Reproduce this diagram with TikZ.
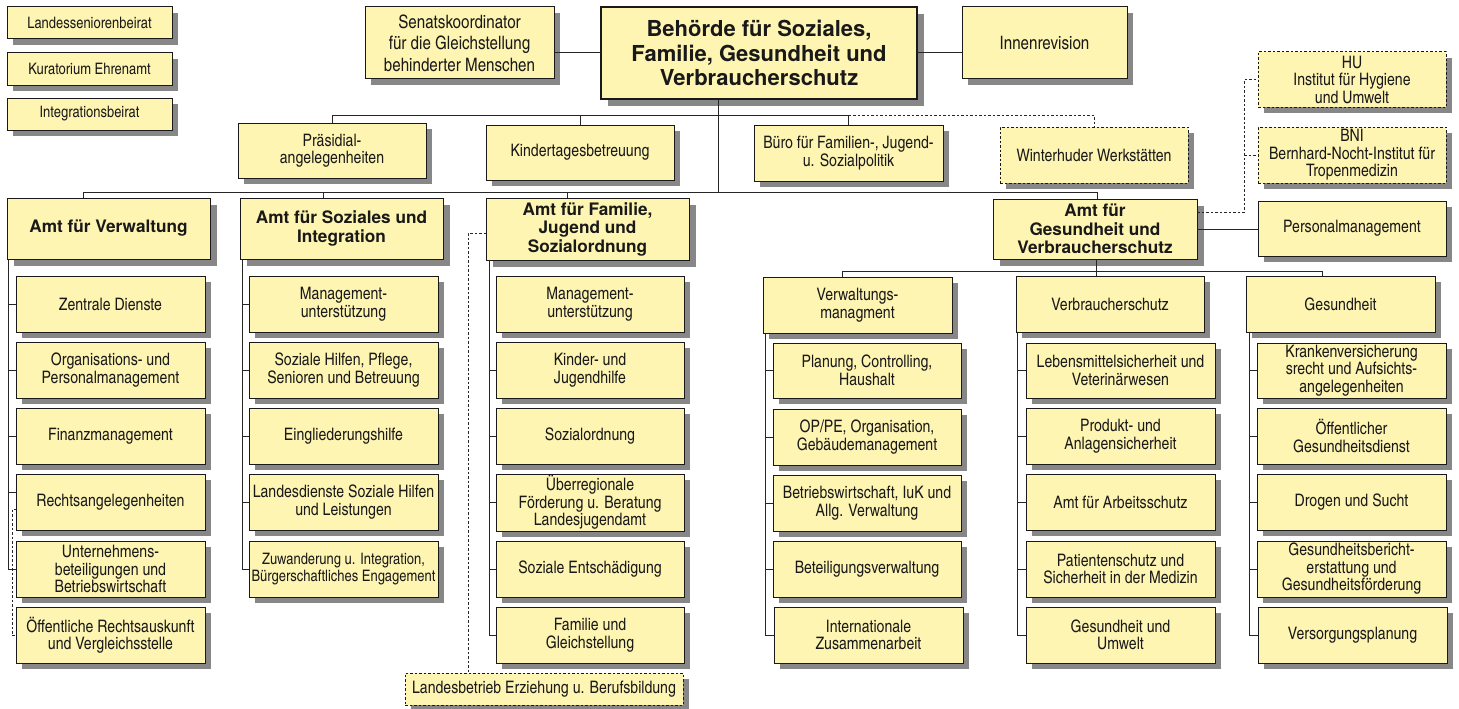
\documentclass[tikz,border=0pt]{standalone}
\usepackage{fontspec}
\setmainfont{texgyreheroscn}[Extension=.otf,UprightFont=*-regular,BoldFont=*-bold]
\newfontfamily\hbold{texgyreheros}[Extension=.otf,UprightFont=*-bold]
\usetikzlibrary{shadows}
\definecolor{boxfill}{RGB}{255,245,178}
\definecolor{shadowc}{RGB}{135,135,135}
\tikzset{
  base/.style={draw=black!90, line width=1pt, fill=boxfill, inner sep=0pt, outer sep=0pt,
    align=center, text=black!90, font=\fontsize{17.2}{17.5}\selectfont},
  box/.style={base, drop shadow={shadow xshift=6pt, shadow yshift=-6pt, fill=shadowc, opacity=1}},
  bigbox/.style={base, drop shadow={shadow xshift=7pt, shadow yshift=-7pt, fill=shadowc, opacity=1}},
  dbox/.style={dash pattern=on 2.5pt off 2pt},
  head/.style={font={\hbold\fontsize{17.2}{18.5}\selectfont}},
  small/.style={font=\fontsize{15.8}{17.5}\selectfont},
  ln/.style={draw=black!85, line width=1pt},
  dln/.style={ln, dash pattern=on 2.5pt off 2pt},
}
\newcommand\obox[7][box]{%
  \pgfmathsetmacro\obw{#5-#3}\pgfmathsetmacro\obh{#6-#4}%
  \node[#1, minimum width=\obw pt, minimum height=\obh pt, anchor=north west] (#2) at (#3,#4) {#7};}
\begin{document}
\begin{tikzpicture}[x=1pt,y=-1pt]
\useasboundingbox (0,0) rectangle (1459,709);
% top-left boards
\obox[box,small]{lsb}{7}{7}{172}{39}{Landesseniorenbeirat}
\obox[box,small]{kur}{7}{53}{172}{85}{Kuratorium Ehrenamt}
\obox[box,small]{intb}{7}{98}{172}{130}{Integrationsbeirat}
% top row
\obox[box,font=\fontsize{18.5}{21.5}\selectfont]{senat}{365}{7}{554}{79}{Senatskoordinator\\für die Gleichstellung\\behinderter Menschen}
\obox[bigbox,line width=2.2pt,font={\hbold\fontsize{22}{24.5}\selectfont}]{beh}{601}{7}{917}{99}{Behörde für Soziales,\\Familie, Gesundheit und\\Verbraucherschutz}
\obox[box,font=\fontsize{18.5}{21.5}\selectfont]{inn}{962}{7}{1127}{79}{Innenrevision}
% staff row
\obox{praes}{238}{123}{426}{178}{Präsidial-\\angelegenheiten}
\obox{kita}{486}{125}{674}{180}{Kindertagesbetreuung}
\obox{buero}{754}{125}{943}{181}{Büro für Familien-, Jugend-\\u. Sozialpolitik}
\obox[box,dbox]{winter}{1000}{127}{1188}{183}{Winterhuder Werkstätten}
\obox[box,dbox]{hu}{1258}{52}{1446}{107}{HU\\Institut für Hygiene\\und Umwelt}
\obox[box,dbox]{bni}{1258}{127}{1446}{183}{BNI\\Bernhard-Nocht-Institut für\\Tropenmedizin}
% Ämter
\obox[bigbox,head]{avw}{7}{198}{210}{259}{Amt für Verwaltung}
\obox[bigbox,head]{asi}{240}{198}{443}{259}{Amt für Soziales und\\Integration}
\obox[bigbox,head]{afj}{486}{198}{689}{260}{Amt für Familie,\\Jugend und\\Sozialordnung}
\obox[bigbox,head]{ages}{993}{199}{1197}{259}{Amt für\\Gesundheit und\\Verbraucherschutz}
\obox{pers}{1258}{201}{1446}{256}{Personalmanagement}
% Abteilungen Gesundheit
\obox{vm}{763}{277}{952}{333}{Verwaltungs-\\managment}
\obox{vs}{1016}{276}{1204}{332}{Verbraucherschutz}
\obox{ge}{1246}{276}{1435}{332}{Gesundheit}
% column Verwaltung
\obox{zd}{16}{276}{205}{332}{Zentrale Dienste}
\obox{org}{16}{342}{205}{398}{Organisations- und\\Personalmanagement}
\obox{fin}{16}{408}{205}{464}{Finanzmanagement}
\obox{recht}{16}{474}{205}{530}{Rechtsangelegenheiten}
\obox{uub}{16}{541}{205}{597}{Unternehmens-\\beteiligungen und\\Betriebswirtschaft}
\obox{oeff}{16}{607}{205}{663}{Öffentliche Rechtsauskunft\\und Vergleichsstelle}
% column Soziales
\obox{s1}{249}{276}{438}{332}{Management-\\unterstützung}
\obox{s2}{249}{342}{438}{398}{Soziale Hilfen, Pflege,\\Senioren und Betreuung}
\obox{s3}{249}{408}{438}{464}{Eingliederungshilfe}
\obox{s4}{249}{474}{438}{530}{Landesdienste Soziale Hilfen\\und Leistungen}
\obox[box,small]{s5}{249}{541}{438}{597}{Zuwanderung u. Integration,\\Bürgerschaftliches Engagement}
% column Familie
\obox{f1}{496}{276}{684}{332}{Management-\\unterstützung}
\obox{f2}{496}{342}{684}{398}{Kinder- und\\Jugendhilfe}
\obox{f3}{496}{408}{684}{464}{Sozialordnung}
\obox{f4}{496}{474}{684}{531}{Überregionale\\Förderung u. Beratung\\Landesjugendamt}
\obox{f5}{496}{541}{684}{597}{Soziale Entschädigung}
\obox{f6}{496}{607}{684}{663}{Familie und\\Gleichstellung}
\obox[box,dbox]{lbe}{405}{673}{683}{705}{Landesbetrieb Erziehung u. Berufsbildung}
% column Verwaltungsmanagement
\obox{v1}{773}{343}{961}{398}{Planung, Controlling,\\Haushalt}
\obox{v2}{773}{409}{961}{465}{OP/PE, Organisation,\\Gebäudemanagement}
\obox{v3}{773}{475}{961}{531}{Betriebswirtschaft, IuK und\\Allg. Verwaltung}
\obox{v4}{773}{541}{961}{597}{Beteiligungsverwaltung}
\obox{v5}{774}{607}{963}{663}{Internationale\\Zusammenarbeit}
% column Verbraucherschutz
\obox{p1}{1026}{343}{1215}{398}{Lebensmittelsicherheit und\\Veterinärwesen}
\obox{p2}{1026}{408}{1215}{464}{Produkt- und\\Anlagensicherheit}
\obox{p3}{1026}{474}{1215}{530}{Amt für Arbeitsschutz}
\obox{p4}{1026}{541}{1215}{597}{Patientenschutz und\\Sicherheit in der Medizin}
\obox{p5}{1026}{607}{1215}{663}{Gesundheit und\\Umwelt}
% column Gesundheit
\obox{g1}{1257}{343}{1446}{398}{Krankenversicherung\\srecht und Aufsichts-\\angelegenheiten}
\obox{g2}{1257}{408}{1446}{464}{Öffentlicher\\Gesundheitsdienst}
\obox{g3}{1257}{474}{1446}{530}{Drogen und Sucht}
\obox{g4}{1257}{541}{1446}{597}{Gesundheitsbericht-\\erstattung und\\Gesundheitsförderung}
\obox{g5}{1258}{607}{1447}{663}{Versorgungsplanung}
% ---------- connectors ----------
\draw[ln] (beh.west) -- (beh.west -| senat.east);
\draw[ln] (beh.east) -- (beh.east -| inn.west);
\coordinate (tr1) at (718,115);
\coordinate (tr2) at (718,192);
\draw[ln] (beh.south -| tr1) -- (tr2);
\draw[ln] (praes.north) |- (buero.north |- tr1) -- (buero.north);
\draw[ln] (kita.north) -- (kita.north |- tr1);
\draw[dln] (buero.north |- tr1) -| (winter.north);
\coordinate (ta) at (83,192);
\coordinate (tb) at (323,192);
\coordinate (tc) at (567,192);
\coordinate (td) at (1097,192);
\draw[ln] (ta |- avw.north) -- (ta) -- (td) -- (td |- ages.north);
\draw[ln] (tb) -- (tb |- asi.north);
\draw[ln] (tc) -- (tc |- afj.north);
\draw[ln] (ages.east) -- (ages.east -| pers.west);
\coordinate (hv) at (1244,212);
\draw[dln] (ages.east |- hv) -- (hv) |- (hu.west);
\draw[dln] (hv |- bni.west) -- (bni.west);
\coordinate (tr3) at (1096,271);
\coordinate (t3a) at (842,271);
\coordinate (t3c) at (1322,271);
\draw[ln] (ages.south -| tr3) -- (tr3) -- (tr3 |- vs.north);
\draw[ln] (t3a |- vm.north) -- (t3a) -- (t3c) -- (t3c |- ge.north);
% columns
\foreach \c in {zd,org,fin,uub} \draw[ln] ([xshift=1pt]avw.south west) |- (\c.west);
\draw[ln] ([xshift=1pt]avw.south west) |- ([yshift=10pt]recht.west);
\draw[dln] ([yshift=-7pt]recht.west) -- ++(-4,0) |- (oeff.west);
\foreach \c in {s1,s2,s3,s4,s5} \draw[ln] ([xshift=2pt]asi.south west) |- (\c.west);
\foreach \c in {f2,f3,f4,f5,f6} \draw[ln] ([xshift=3pt]afj.south west) |- (\c.west);
\draw[dln] ([yshift=-4pt]afj.west) -| ([xshift=-76pt]lbe.north);
\foreach \c in {v1,v2,v3,v4,v5} \draw[ln] ([xshift=2pt]vm.south west) |- (\c.west);
\foreach \c in {p1,p2,p3,p4,p5} \draw[ln] ([xshift=1pt]vs.south west) |- (\c.west);
\foreach \c in {g1,g2,g3,g4,g5} \draw[ln] ([xshift=3pt]ge.south west) |- (\c.west);
\end{tikzpicture}
\end{document}
